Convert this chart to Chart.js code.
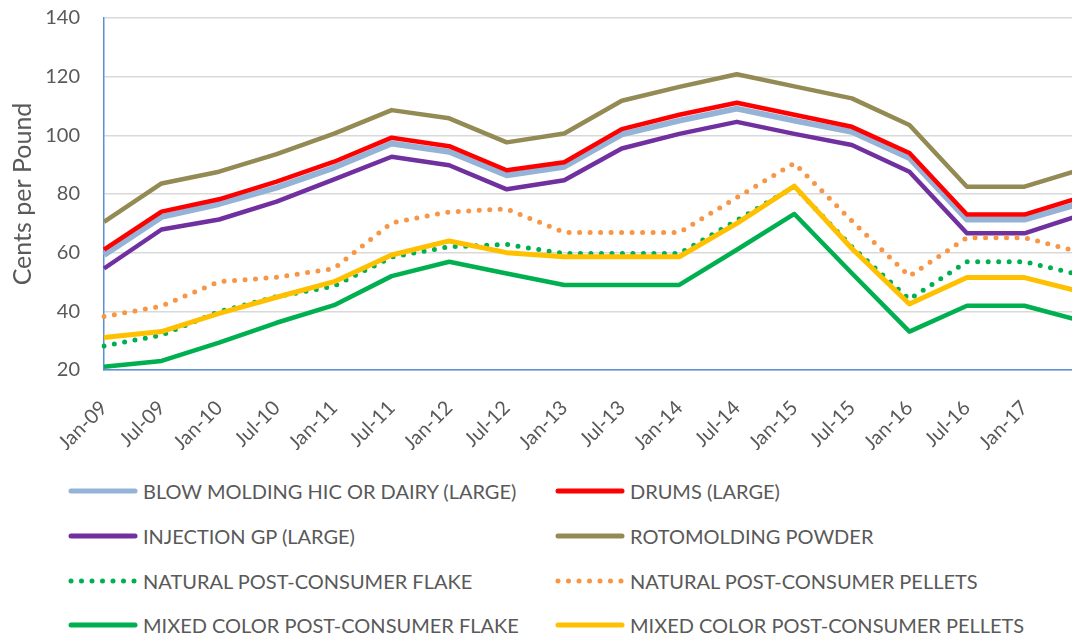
<!DOCTYPE html>
<html>
<head>
<meta charset="utf-8">
<title>HDPE prices</title>
<script src="https://cdn.jsdelivr.net/npm/chart.js@4.4.1/dist/chart.umd.min.js"></script>
<style>
  html, body { margin: 0; padding: 0; background: #fff; overflow: hidden; }
  #frame { position: relative; width: 1072px; height: 638px; overflow: hidden; }
  #chartBox { position: absolute; left: 0; top: 0; width: 1082px; height: 450px; }
  #legend {
    position: absolute; left: 68px; top: 469px; width: 1000px;
    display: grid; grid-template-columns: 487px 500px; grid-auto-rows: 44.7px;
    font-family: Lato, sans-serif; font-size: 20px; color: #595959;
  }
  .item { display: flex; align-items: center; white-space: nowrap; }
  .item svg { width: 70px; height: 10px; margin-right: 5px; flex: none; }
</style>
</head>
<body>
<div id="frame">
  <div id="chartBox"><canvas id="chart"></canvas></div>
  <div id="legend"></div>
</div>
<script>
'use strict';

// ── Data ─────────────────────────────────────────────────────────
const categories = ['Jan-09', 'Jul-09', 'Jan-10', 'Jul-10', 'Jan-11', 'Jul-11', 'Jan-12', 'Jul-12',
                    'Jan-13', 'Jul-13', 'Jan-14', 'Jul-14', 'Jan-15', 'Jul-15', 'Jan-16', 'Jul-16',
                    'Jan-17', 'Jul-17'];
const yTicks = [20, 40, 60, 80, 100, 120, 140];

const blowMolding   = [59.2, 72.2, 76.6, 82.2, 89, 97.2, 94.4, 86.4, 89.3, 100.3, 105, 109.1, 105, 101.2, 92.3, 71.3, 71.3, 77];
const drums         = [61, 74, 78.2, 84.2, 91, 99.2, 96.3, 88.1, 90.8, 102.1, 107, 111.1, 107, 102.9, 94, 73, 73, 79];
const injectionGP   = [54.6, 67.9, 71.3, 77.4, 85, 92.7, 89.8, 81.6, 84.7, 95.5, 100.5, 104.6, 100.5, 96.7, 87.6, 66.6, 66.6, 73];
const rotomolding   = [70.5, 83.6, 87.6, 93.6, 100.6, 108.6, 105.8, 97.6, 100.6, 111.8, 116.5, 120.8, 116.7, 112.6, 103.5, 82.5, 82.5, 88.5];
const naturalFlake  = [28.2, 31.9, 39.9, 45, 48.6, 58.5, 62, 62.8, 59.7, 59.7, 59.7, 71, 82.5, 62, 44.1, 56.9, 56.9, 52.3];
const naturalPellet = [38.2, 41.8, 50.1, 51.6, 54.6, 70.2, 73.9, 74.9, 66.9, 66.9, 66.9, 78.8, 90.5, 70.8, 52, 65.1, 65.1, 60];
const mixedFlake    = [21.1, 23.1, 29.3, 36.1, 42.1, 52, 56.9, 52.9, 49, 49, 49, 61, 73.2, 53, 33.1, 41.9, 41.9, 36.7];
const mixedPellet   = [31.1, 33.1, 39.3, 44.8, 50.1, 59.2, 64, 60, 58.6, 58.6, 58.6, 70, 82.7, 61.4, 42.5, 51.5, 51.5, 46.6];

// ── Series styling ───────────────────────────────────────────────
const series = [
  { label: 'BLOW MOLDING HIC OR DAIRY (LARGE)', data: blowMolding,   color: '#95B3D7', width: 6 },
  { label: 'DRUMS (LARGE)',                     data: drums,         color: '#FF0000', width: 4.5 },
  { label: 'INJECTION GP (LARGE)',              data: injectionGP,   color: '#7030A0', width: 4.5 },
  { label: 'ROTOMOLDING POWDER',                data: rotomolding,   color: '#948A54', width: 4.5 },
  { label: 'NATURAL POST-CONSUMER FLAKE',       data: naturalFlake,  color: '#00B050', width: 5, dotted: true },
  { label: 'NATURAL POST-CONSUMER PELLETS',     data: naturalPellet, color: '#F79646', width: 5, dotted: true },
  { label: 'MIXED COLOR POST-CONSUMER FLAKE',   data: mixedFlake,    color: '#00B050', width: 4.5 },
  { label: 'MIXED COLOR POST-CONSUMER PELLETS', data: mixedPellet,   color: '#FFC000', width: 5 },
];

const GREY = '#595959';

// ── Chart ────────────────────────────────────────────────────────
// Plot area runs past the right edge of the frame, so the last point is cut off.
new Chart(document.getElementById('chart'), {
  type: 'line',
  data: {
    labels: categories,
    datasets: series.map((s, i) => ({
      label: s.label,
      data: s.data,
      borderColor: s.color,
      backgroundColor: s.color,
      borderWidth: s.width,
      borderDash: s.dotted ? [0, 10.5] : [],
      borderCapStyle: s.dotted ? 'round' : 'butt',
      borderJoinStyle: 'round',
      pointRadius: 0,
      tension: 0,
      order: series.length - i,   // later series on top, like Excel
    })),
  },
  options: {
    responsive: true,
    maintainAspectRatio: false,
    animation: false,
    layout: { padding: { left: 4, top: 18, right: 0, bottom: 0 } },
    plugins: { legend: { display: false }, tooltip: { enabled: false } },
    scales: {
      x: {
        offset: false,
        grid: { display: false },
        border: { display: true, color: '#5B8FD0', width: 1.5 },
        ticks: {
          autoSkip: false,
          minRotation: 45,
          maxRotation: 45,
          padding: 18,
          color: GREY,
          font: { family: 'Lato', size: 20 },
          callback: (v, i) => (i === categories.length - 1 ? '' : categories[i]),
        },
        afterFit: s => { s.height = 80; s.paddingLeft = 0; s.paddingRight = 0; },
      },
      y: {
        min: 20,
        max: 140,
        afterBuildTicks: s => { s.ticks = yTicks.map(v => ({ value: v })); },
        grid: { color: '#D9D9D9', lineWidth: 1.5, drawTicks: false },
        border: { display: true, color: '#5B8FD0', width: 1.5 },
        ticks: { padding: 24, color: GREY, font: { family: 'Lato', size: 20 } },
        title: {
          display: true,
          text: 'Cents per Pound',
          color: GREY,
          font: { family: 'Lato', size: 25 },
          padding: { top: 4, bottom: 4 },
        },
        afterFit: s => { s.width = 100; s.paddingTop = 0; s.paddingBottom = 0; },
      },
    },
  },
});

// ── Legend (two columns, like the Excel original) ────────────────
const legendEl = document.getElementById('legend');
series.forEach(s => {
  const dash = s.dotted ? 'stroke-dasharray="0 10.5" stroke-linecap="round"' : 'stroke-linecap="round"';
  const item = document.createElement('div');
  item.className = 'item';
  item.innerHTML =
    `<svg viewBox="0 0 70 10"><line x1="3" y1="5" x2="67" y2="5" stroke="${s.color}" stroke-width="5" ${dash}/></svg>` +
    `<span>${s.label}</span>`;
  legendEl.appendChild(item);
});
</script>
</body>
</html>
